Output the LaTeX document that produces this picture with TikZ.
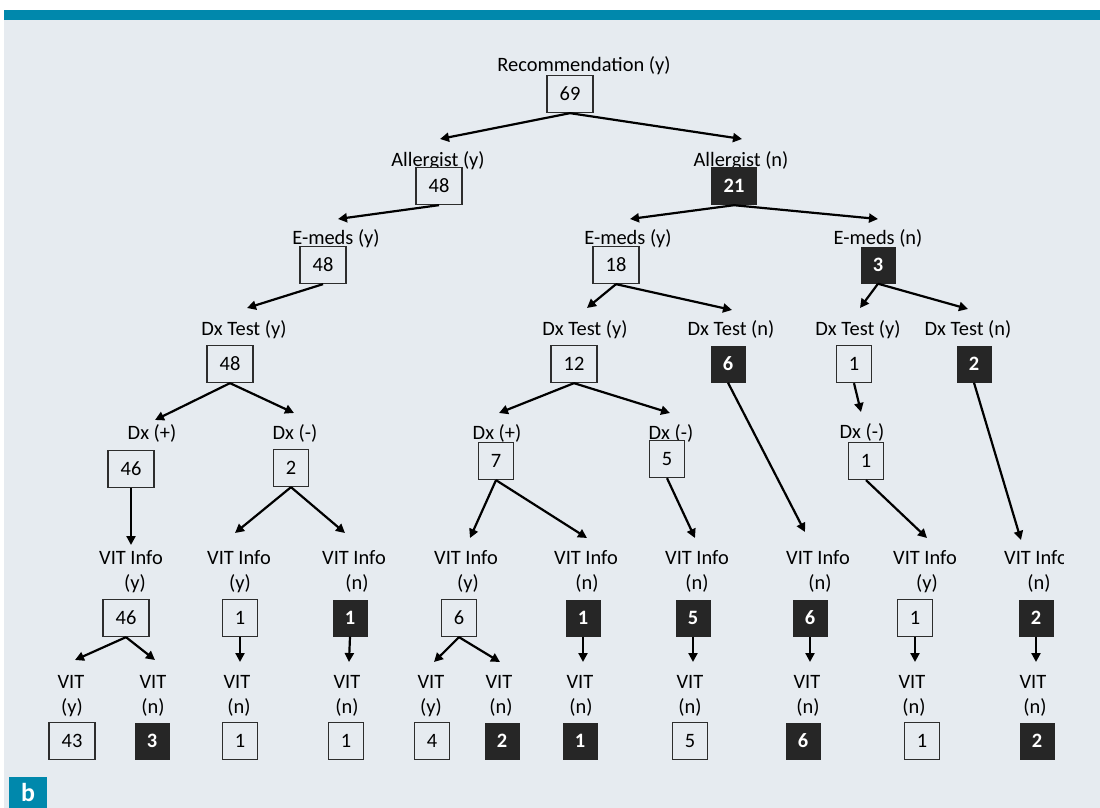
\documentclass[tikz,border=0pt]{standalone}
\usepackage{fontspec}
\setmainfont{Carlito}
\usetikzlibrary{arrows.meta}
\definecolor{bgc}{RGB}{230,235,240}
\definecolor{tealc}{RGB}{0,136,172}
\definecolor{darkc}{RGB}{38,38,38}
\definecolor{boxc}{RGB}{45,45,45}
\begin{document}
\begin{tikzpicture}[x=1bp,y=-1bp,font=\fontsize{20.5}{24}\selectfont,
  lab/.style={inner sep=0pt, text height=13bp, text depth=0pt, anchor=center},
  wbox/.style={draw=boxc, line width=1.3bp, fill=bgc, minimum height=37bp, inner sep=0pt, text height=13bp, text depth=0pt},
  bbox/.style={fill=darkc, text=white, font=\fontsize{20.5}{24}\selectfont\bfseries, minimum height=37bp, inner sep=0pt, text height=13bp, text depth=0pt},
  two/.style={minimum width=46bp},
  one/.style={minimum width=35bp},
  arr/.style={line width=2.2bp, draw=black, -{Triangle[length=9bp,width=9bp]}}]
\clip (0,0) rectangle (1100,808);
\fill[white] (0,0) rectangle (1100,808);
\fill[bgc] (4,20) rectangle (1100,808);
\fill[tealc] (4,10) rectangle (1100,20);
\fill[tealc] (9,777) rectangle (47,808);
\node[inner sep=0pt, anchor=base, text=white, font=\fontsize{26}{30}\selectfont\bfseries] (blab) at (28,801) {b};

% ---- labels, upper levels
\node[lab] (L0) at (584,65) {Recommendation (y)};
\node[lab] (L1a) at (438,160) {Allergist (y)};
\node[lab] (L1b) at (741,160) {Allergist (n)};
\node[lab] (L2a) at (336,238) {E-meds (y)};
\node[lab] (L2b) at (628,238) {E-meds (y)};
\node[lab] (L2c) at (878,238) {E-meds (n)};
\node[lab] (L3a) at (244,329) {Dx Test (y)};
\node[lab] (L3b) at (585,329) {Dx Test (y)};
\node[lab] (L3c) at (731,329) {Dx Test (n)};
\node[lab] (L3d) at (858,329) {Dx Test (y)};
\node[lab] (L3e) at (968,329) {Dx Test (n)};
\node[lab] (L4a) at (152,433) {Dx (+)};
\node[lab] (L4b) at (295,433) {Dx (-)};
\node[lab] (L4c) at (497,433) {Dx (+)};
\node[lab] (L4d) at (671,433) {Dx (-)};
\node[lab] (L4e) at (862,432) {Dx (-)};

% ---- boxes, upper levels
\node[wbox,two] (B0) at (570,94) {69};
\node[wbox,two] (B1a) at (439,186) {48};
\node[bbox,two,minimum height=38bp] (B1b) at (734,186) {21};
\node[wbox,two] (B2a) at (323,265) {48};
\node[wbox,two] (B2b) at (616,265) {18};
\node[bbox,one] (B2c) at (878,265) {3};
\node[wbox,two] (B3a) at (230,364) {48};
\node[wbox,two] (B3b) at (574,364) {12};
\node[bbox,one] (B3c) at (728,364) {6};
\node[wbox,one] (B3d) at (854,364) {1};
\node[bbox,one] (B3e) at (974,364) {2};
\node[wbox,two] (B4a) at (131,469) {46};
\node[wbox,one] (B4b) at (291,468) {2};
\node[wbox,one] (B4c) at (496,461) {7};
\node[wbox,one] (B4d) at (667,459) {5};
\node[wbox,one] (B4e) at (866,461) {1};

% ---- VIT Info row
\node[lab] (V1) at (131,558) {VIT Info}; \node[lab] (V1p) at (135,583) {(y)};
\node[lab] (V2) at (239,558) {VIT Info}; \node[lab] (V2p) at (240,583) {(y)};
\node[lab] (V3) at (354,558) {VIT Info}; \node[lab] (V3p) at (357,583) {(n)};
\node[lab] (V4) at (466,558) {VIT Info}; \node[lab] (V4p) at (468,583) {(y)};
\node[lab] (V5) at (586,558) {VIT Info}; \node[lab] (V5p) at (587,583) {(n)};
\node[lab] (V6) at (697,558) {VIT Info}; \node[lab] (V6p) at (697,583) {(n)};
\node[lab] (V7) at (818,558) {VIT Info}; \node[lab] (V7p) at (820,583) {(n)};
\node[lab] (V8) at (925,558) {VIT Info}; \node[lab] (V8p) at (927,583) {(y)};
\begin{scope}
\clip (990,540) rectangle (1063,575);
\node[lab] (V9) at (1036,558) {VIT Info};
\end{scope}
\node[lab] (V9p) at (1039,583) {(n)};

\node[wbox,two] (C1) at (126,618) {46};
\node[wbox,one] (C2) at (240,618) {1};
\node[bbox,one] (C3) at (350,618) {1};
\node[wbox,one] (C4) at (459,618) {6};
\node[bbox,one] (C5) at (583,618) {1};
\node[bbox,one] (C6) at (693,618) {5};
\node[bbox,one] (C7) at (810,618) {6};
\node[wbox,one] (C8) at (915,618) {1};
\node[bbox,one] (C9) at (1036,618) {2};

% ---- VIT row
\node[lab] (W1a) at (71,682) {VIT}; \node[lab] (W1ap) at (72,707) {(y)};
\node[lab] (W1b) at (153,682) {VIT}; \node[lab] (W1bp) at (153,707) {(n)};
\node[lab] (W2) at (237,682) {VIT}; \node[lab] (W2p) at (239,707) {(n)};
\node[lab] (W3) at (347,682) {VIT}; \node[lab] (W3p) at (347,707) {(n)};
\node[lab] (W4a) at (431,682) {VIT}; \node[lab] (W4ap) at (431,707) {(y)};
\node[lab] (W4b) at (499,682) {VIT}; \node[lab] (W4bp) at (501,707) {(n)};
\node[lab] (W5) at (580,682) {VIT}; \node[lab] (W5p) at (581,707) {(n)};
\node[lab] (W6) at (690,682) {VIT}; \node[lab] (W6p) at (690,707) {(n)};
\node[lab] (W7) at (807,682) {VIT}; \node[lab] (W7p) at (808,707) {(n)};
\node[lab] (W8) at (912,682) {VIT}; \node[lab] (W8p) at (914,707) {(n)};
\node[lab] (W9) at (1033,682) {VIT}; \node[lab] (W9p) at (1035,707) {(n)};

\node[wbox,two] (D1a) at (72,741) {43};
\node[bbox,one] (D1b) at (152,741) {3};
\node[wbox,one] (D2) at (240,741) {1};
\node[wbox,one] (D3) at (346,741) {1};
\node[wbox,one] (D4a) at (432,741) {4};
\node[bbox,one] (D4b) at (502,741) {2};
\node[bbox,one] (D5) at (580,741) {1};
\node[wbox,one] (D6) at (690,741) {5};
\node[bbox,one] (D7) at (803,741) {6};
\node[wbox,one] (D8) at (922,741) {1};
\node[bbox,one] (D9) at (1037,741) {2};

% ---- arrow tips
\coordinate (t1a) at (440,139);
\coordinate (t1b) at (742,139);
\coordinate (t2a) at (338,219);
\coordinate (t2b) at (630,219);
\coordinate (t2c) at (878,219);
\coordinate (t3a) at (247,308);
\coordinate (t3b) at (587,308);
\coordinate (t3c) at (732,310);
\coordinate (t3d) at (860,308);
\coordinate (t3e) at (968,309);
\coordinate (t4a) at (155,420);
\coordinate (t4b) at (294,413);
\coordinate (t4c) at (499,413);
\coordinate (t4d) at (670,413);
\coordinate (t4e) at (861,412);
\coordinate (tv1) at (131,545);
\coordinate (tv2) at (235,533);
\coordinate (tv3) at (345,533);
\coordinate (tv4) at (470,538);
\coordinate (tv5) at (587,538);
\coordinate (tv6) at (695,538);
\coordinate (tv7) at (805,532);
\coordinate (tv8) at (927,538);
\coordinate (tv9) at (1021,540);
\coordinate (tw1a) at (75,660);
\coordinate (tw1b) at (155,660);
\coordinate (tw2) at (240,662);
\coordinate (tw3) at (349,662);
\coordinate (tw4a) at (434,662);
\coordinate (tw4b) at (500,662);
\coordinate (tw5) at (583,662);
\coordinate (tw6) at (693,662);
\coordinate (tw7) at (810,662);
\coordinate (tw8) at (915,662);
\coordinate (tw9) at (1036,662);

% ---- connectors
\draw[arr] (B0.south) -- (t1a);
\draw[arr] (B0.south) -- (t1b);
\draw[arr] (B1a.south) -- (t2a);
\draw[arr] (B1b.south) -- (t2b);
\draw[arr] (B1b.south) -- (t2c);
\draw[arr] (B2a.south) -- (t3a);
\draw[arr] (B2b.south) -- (t3b);
\draw[arr] (B2b.south) -- (t3c);
\draw[arr] (B2c.south) -- (t3d);
\draw[arr] (B2c.south) -- (t3e);
\draw[arr] (B3a.south) -- (t4a);
\draw[arr] (B3a.south) -- (t4b);
\draw[arr] (B3b.south) -- (t4c);
\draw[arr] (B3b.south) -- (t4d);
\draw[arr] (B3c.south) -- (tv7);
\draw[arr] (B3d.south) -- (t4e);
\draw[arr] (B3e.south) -- (tv9);
\draw[arr] (B4a.south) -- (tv1);
\draw[arr] (B4b.south) -- (tv2);
\draw[arr] (B4b.south) -- (tv3);
\draw[arr] (B4c.south) -- (tv4);
\draw[arr] (B4c.south) -- (tv5);
\draw[arr] (B4d.south) -- (tv6);
\draw[arr] (B4e.south) -- (tv8);
\draw[arr] (C1.south) -- (tw1a);
\draw[arr] (C1.south) -- (tw1b);
\draw[arr] (C2.south) -- (tw2);
\draw[arr] (C3.south) -- (tw3);
\draw[arr] (C4.south) -- (tw4a);
\draw[arr] (C4.south) -- (tw4b);
\draw[arr] (C5.south) -- (tw5);
\draw[arr] (C6.south) -- (tw6);
\draw[arr] (C7.south) -- (tw7);
\draw[arr] (C8.south) -- (tw8);
\draw[arr] (C9.south) -- (tw9);
\end{tikzpicture}
\end{document}
